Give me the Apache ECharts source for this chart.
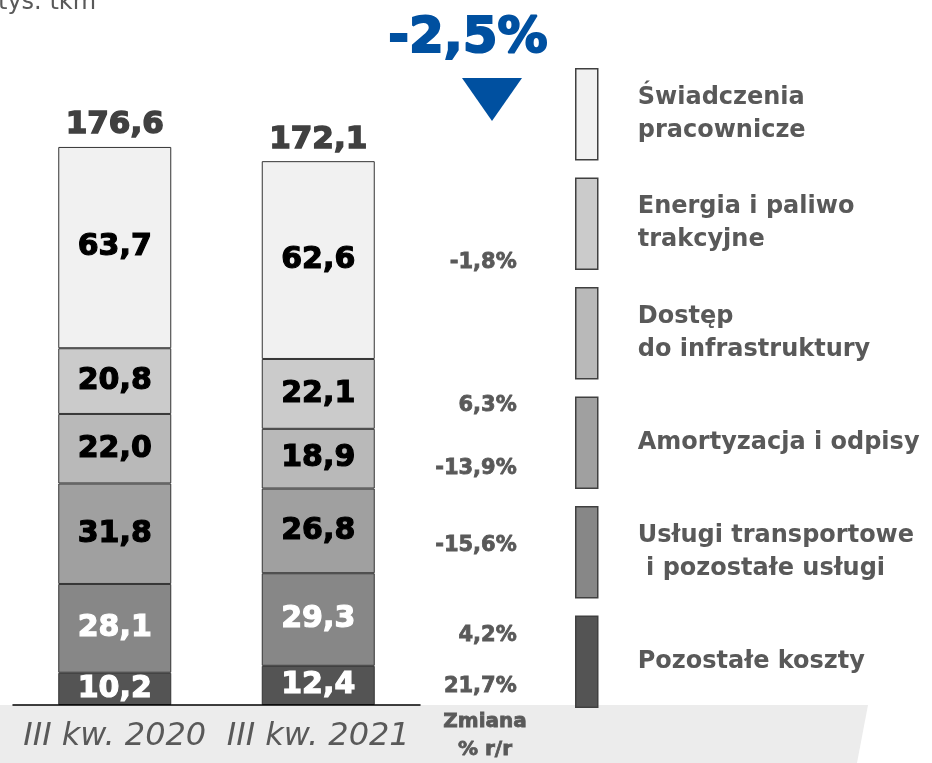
<!DOCTYPE html>
<html>
<head>
<meta charset="utf-8">
<script src="https://cdn.jsdelivr.net/npm/echarts@6/dist/echarts.min.js"></script>
<style>
  html, body { margin: 0; padding: 0; background: #fff; }
  #stage { width: 932px; height: 763px; }
</style>
</head>
<body>
<div id="stage"></div>
<script>
'use strict';

// dane (od dołu słupka do góry)
const categories = ['III kw. 2020', 'III kw. 2021'];
const seriesNames = [
  'Pozostałe koszty',
  'Usługi transportowe\n i pozostałe usługi',
  'Amortyzacja i odpisy',
  'Dostęp\ndo infrastruktury',
  'Energia i paliwo\ntrakcyjne',
  'Świadczenia\npracownicze'
];
const values2020 = [10.2, 28.1, 31.8, 22.0, 20.8, 63.7];
const values2021 = [12.4, 29.3, 26.8, 18.9, 22.1, 62.6];
const changePct = [21.7, 4.2, -15.6, -13.9, 6.3, -1.8];
const totals = [176.6, 172.1];
const totalChange = -2.5;

// wygląd
const COLORS = ['#545454', '#878787', '#a0a0a0', '#b9b9b9', '#cbcbcb', '#f1f1f1'];
const LABEL_COLORS = ['#fff', '#fff', '#000', '#000', '#000', '#000'];
const PCT_NUDGE = [1, 16, 15, 10, 12, 2];
const FONT = '"DejaVu Sans", sans-serif';

const fmt = v => v.toFixed(1).replace('.', ',');

const myChart = echarts.init(document.getElementById('stage'));

let series = [];
for (let i = 0; i < seriesNames.length; i++) {
  series.push({
    name: seriesNames[i],
    type: 'bar',
    stack: 'main',
    barWidth: 113,
    barGap: '-100%',
    itemStyle: { color: COLORS[i], borderColor: '#333', borderWidth: 1 },
    label: {
      show: true,
      position: 'inside',
      color: LABEL_COLORS[i],
      // obrys w kolorze tekstu = grubsza czcionka jak w oryginale
      textBorderColor: LABEL_COLORS[i],
      textBorderWidth: 1.2,
      fontFamily: FONT,
      fontWeight: 'bold',
      fontSize: 30,
      formatter: p => fmt(p.value)
    },
    data: [values2020[i], values2021[i]]
  });
}
// suma nad słupkiem
series.push({
  name: 'suma',
  type: 'bar',
  stack: 'main',
  barWidth: 113,
  barGap: '-100%',
  itemStyle: { color: 'transparent' },
  label: {
    show: true,
    position: 'top',
    distance: 6,
    color: '#404040',
    textBorderColor: '#404040',
    textBorderWidth: 1.5,
    fontFamily: FONT,
    fontWeight: 'bold',
    fontSize: 31,
    formatter: p => fmt(totals[p.dataIndex])
  },
  data: [0, 0]
});
// zmiana % r/r - przezroczysta kopia drugiego słupka, etykiety z prawej
for (let i = 0; i < seriesNames.length; i++) {
  series.push({
    name: 'zmiana' + i,
    type: 'bar',
    stack: 'pct',
    barWidth: 113,
    barGap: '-100%',
    itemStyle: { color: 'transparent' },
    label: {
      show: true,
      position: ['100%', '50%'],
      offset: [142, PCT_NUDGE[i]],
      align: 'right',
      verticalAlign: 'middle',
      color: '#595959',
      textBorderColor: '#595959',
      textBorderWidth: 0.8,
      fontFamily: FONT,
      fontWeight: 'bold',
      fontSize: 21,
      formatter: () => fmt(changePct[i]) + '%'
    },
    data: ['-', values2021[i]]
  });
}

const option = {
  backgroundColor: '#fff',
  animation: false,
  grid: { left: 13, width: 407, top: 73, height: 632 },
  xAxis: {
    type: 'category',
    data: categories,
    axisLine: { lineStyle: { color: '#000', width: 1.5 } },
    axisTick: { show: false },
    axisLabel: {
      interval: 0,
      hideOverlap: false,
      margin: 16,
      color: '#595959',
      fontFamily: FONT,
      fontStyle: 'italic',
      fontSize: 32
    },
    z: 10
  },
  yAxis: { type: 'value', min: 0, max: 200, show: false },
  legend: {
    data: seriesNames.slice().reverse(),
    orient: 'vertical',
    left: 570,
    top: 63,
    itemWidth: 22,
    itemHeight: 91,
    itemGap: 17,
    icon: 'rect',
    itemStyle: { borderColor: '#404040', borderWidth: 1.5 },
    selectedMode: false,
    textStyle: {
      color: '#595959',
      fontFamily: FONT,
      fontWeight: 'bold',
      fontSize: 24,
      lineHeight: 33,
      padding: [0, 0, 0, 35]
    }
  },
  graphic: [
    {
      type: 'polygon',
      z: -10,
      shape: { points: [[0, 705], [868, 705], [857, 763], [0, 763]] },
      style: { fill: '#ececec' }
    },
    {
      type: 'text',
      left: -2,
      top: -9,
      style: { text: 'tys. tkm', fill: '#595959', font: '24px ' + FONT }
    },
    {
      type: 'text',
      x: 468,
      y: 39,
      style: {
        text: fmt(totalChange) + '%',
        fill: '#0050a0',
        stroke: '#0050a0',
        lineWidth: 2,
        font: 'bold 50px ' + FONT,
        align: 'center',
        verticalAlign: 'middle'
      }
    },
    {
      type: 'polygon',
      shape: { points: [[462, 78], [522, 78], [492, 121]] },
      style: { fill: '#0050a0' }
    },
    {
      type: 'text',
      x: 485,
      y: 708,
      style: {
        text: 'Zmiana\n% r/r',
        fill: '#595959',
        stroke: '#595959',
        lineWidth: 0.8,
        font: 'bold 20px ' + FONT,
        lineHeight: 28,
        align: 'center'
      }
    }
  ],
  series: series
};

myChart.setOption(option);
</script>
</body>
</html>
